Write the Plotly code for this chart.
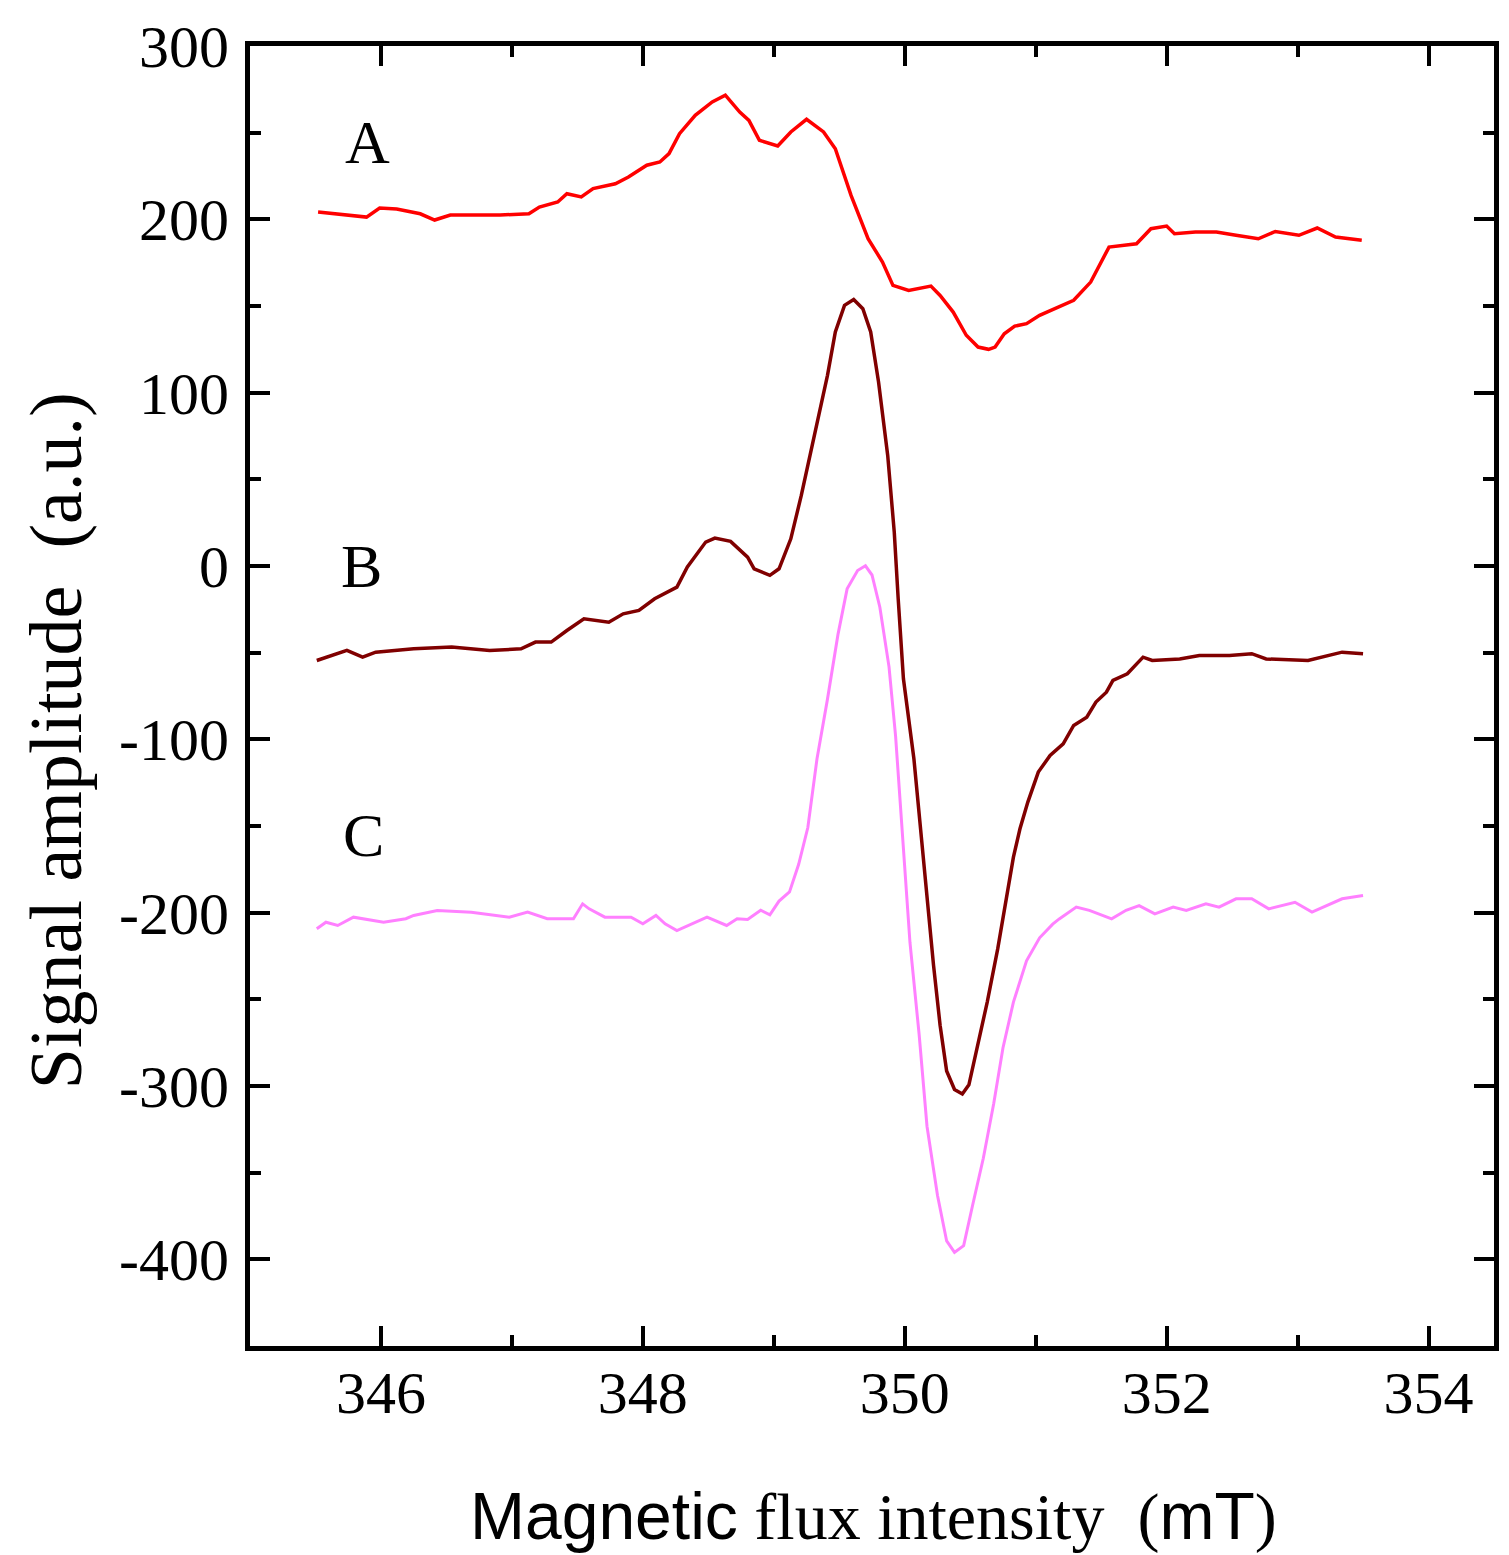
import plotly.graph_objects as go

# ---- data ----
x_a = [345.52, 345.89, 345.99, 346.12, 346.30, 346.41, 346.53, 346.91, 347.13, 347.21,
       347.35, 347.42, 347.53, 347.62, 347.79, 347.89, 348.03, 348.13, 348.20, 348.28,
       348.40, 348.53, 348.63, 348.74, 348.81, 348.89, 349.03, 349.13, 349.25, 349.38,
       349.47, 349.59, 349.72, 349.83, 349.91, 350.03, 350.20, 350.27, 350.37, 350.47,
       350.56, 350.64, 350.69, 350.76, 350.84, 350.93, 351.03, 351.15, 351.29, 351.42,
       351.56, 351.77, 351.88, 352.00, 352.06, 352.22, 352.38, 352.53, 352.70, 352.83,
       353.01, 353.15, 353.29, 353.49]
y_a = [204.2, 201.3, 206.5, 205.9, 203.2, 199.6, 202.5, 202.5, 203.2, 207.1,
       210.0, 214.8, 212.9, 217.7, 220.5, 224.4, 231.2, 233.1, 237.9, 249.4,
       260.0, 267.7, 271.6, 261.9, 257.1, 245.6, 242.3, 250.4, 257.7, 250.4,
       240.7, 213.8, 188.8, 175.4, 161.9, 159.0, 161.5, 156.1, 146.5, 133.1,
       126.3, 125.0, 126.3, 134.0, 138.4, 139.8, 144.6, 148.4, 153.3, 163.8,
       184.0, 185.9, 194.6, 196.1, 191.7, 192.7, 192.7, 190.8, 188.8, 193.0,
       190.8, 195.0, 189.8, 187.9]

x_b = [345.51, 345.74, 345.86, 345.96, 346.25, 346.54, 346.83, 347.07, 347.18, 347.30,
       347.42, 347.55, 347.74, 347.85, 347.97, 348.09, 348.26, 348.34, 348.48, 348.55,
       348.67, 348.80, 348.85, 348.97, 349.04, 349.13, 349.21, 349.31, 349.41, 349.47,
       349.54, 349.61, 349.68, 349.74, 349.80, 349.87, 349.92, 349.95, 349.99, 350.07,
       350.12, 350.17, 350.22, 350.27, 350.32, 350.38, 350.44, 350.49, 350.55, 350.63,
       350.71, 350.78, 350.83, 350.88, 350.94, 351.02, 351.11, 351.21, 351.29, 351.39,
       351.46, 351.54, 351.59, 351.70, 351.82, 351.89, 352.10, 352.25, 352.48, 352.65,
       352.76, 353.08, 353.34, 353.50]
y_b = [-54.5, -48.7, -52.6, -49.7, -47.8, -46.8, -48.7, -47.8, -43.9, -43.9,
       -37.2, -30.5, -32.4, -27.6, -25.6, -18.9, -12.2, -0.6, 13.8, 16.1,
       14.2, 5.1, -1.6, -5.4, -1.6, 15.7, 40.7, 75.4, 110.0, 135.0,
       150.4, 153.8, 148.4, 135.0, 106.1, 63.8, 19.6, -18.9, -65.1, -111.2,
       -151.0, -193.3, -230.4, -264.9, -291.3, -302.0, -304.6, -299.3, -278.1, -251.6,
       -220.9, -190.1, -168.0, -151.6, -136.2, -118.9, -109.3, -102.6, -92.0, -87.2,
       -78.5, -72.8, -66.0, -62.2, -52.6, -54.5, -53.6, -51.6, -51.6, -50.6,
       -53.6, -54.5, -49.7, -50.6]

x_c = [345.51, 345.58, 345.67, 345.79, 346.02, 346.19, 346.25, 346.43, 346.69, 346.98,
       347.12, 347.27, 347.47, 347.54, 347.59, 347.71, 347.91, 348.00, 348.10, 348.17,
       348.26, 348.41, 348.49, 348.64, 348.72, 348.80, 348.90, 348.97, 349.04, 349.12,
       349.19, 349.26, 349.33, 349.41, 349.49, 349.56, 349.64, 349.70, 349.75, 349.81,
       349.88, 349.93, 349.98, 350.04, 350.11, 350.17, 350.25, 350.32, 350.38, 350.45,
       350.52, 350.60, 350.68, 350.75, 350.83, 350.93, 351.03, 351.13, 351.18, 351.31,
       351.41, 351.58, 351.69, 351.79, 351.91, 352.05, 352.15, 352.30, 352.40, 352.53,
       352.65, 352.78, 352.98, 353.11, 353.34, 353.50]
y_c = [-209.3, -205.5, -207.4, -202.6, -205.5, -203.5, -201.6, -198.7, -199.7, -202.6,
       -199.7, -203.5, -203.5, -194.9, -197.8, -202.6, -202.6, -206.4, -201.6, -206.4,
       -210.3, -205.5, -202.6, -207.4, -203.5, -203.9, -198.6, -201.3, -193.3, -188.0,
       -172.1, -150.9, -111.2, -76.8, -39.6, -13.2, -2.6, 0.1, -5.2, -23.8,
       -58.2, -98.0, -151.0, -217.2, -270.3, -323.2, -363.0, -389.4, -396.0, -392.1,
       -368.2, -341.7, -310.0, -278.1, -251.6, -227.8, -214.5, -206.6, -203.6, -196.8,
       -198.7, -203.6, -198.6, -195.9, -200.7, -196.8, -198.7, -194.9, -196.8, -192.0,
       -192.0, -197.8, -194.0, -199.7, -192.0, -190.1]

curve_names = ["A", "B", "C"]
label_x = [345.9, 345.85, 345.87]
label_y = [244.6, 0.0, -155.3]

x_ticks = [346, 348, 350, 352, 354]
y_ticks = [-400, -300, -200, -100, 0, 100, 200, 300]

serif = "Liberation Serif, Times New Roman, serif"
narrow = "Liberation Sans Narrow, Arial Narrow, Liberation Sans, Arial, sans-serif"

# ---- figure ----
fig = go.Figure()
fig.add_trace(go.Scatter(x=x_a, y=y_a, mode="lines", line=dict(color="#FF0000", width=3.5), name="A"))
fig.add_trace(go.Scatter(x=x_b, y=y_b, mode="lines", line=dict(color="#800000", width=3.5), name="B"))
fig.add_trace(go.Scatter(x=x_c, y=y_c, mode="lines", line=dict(color="#FF80FF", width=3), name="C"))

for name, lx, ly in zip(curve_names, label_x, label_y):
    fig.add_annotation(x=lx, y=ly, text=name, showarrow=False, xanchor="center", yanchor="middle",
                       font=dict(family=serif, size=62, color="black"))

fig.add_annotation(xref="paper", yref="paper", x=-0.156, y=0.466, text="Signal amplitude  (a.u.)",
                   textangle=-90, showarrow=False, xanchor="center", yanchor="middle",
                   font=dict(family=serif, size=74, color="black"))
fig.add_annotation(xref="paper", yref="paper", x=0.501, y=-0.131,
                   text=f"<span style='font-family:{narrow}'>Magnetic</span> flux intensity  "
                        f"(<span style='font-family:{narrow}'>mT</span>)",
                   showarrow=False, xanchor="center", yanchor="middle",
                   font=dict(family=serif, size=66, color="black"))

axis_common = dict(showline=True, linewidth=5, linecolor="black", mirror="allticks",
                   ticks="inside", ticklen=20, tickwidth=4, tickcolor="black",
                   showgrid=False, zeroline=False,
                   tickfont=dict(family=serif, size=60, color="black"))

fig.update_xaxes(range=[345.0, 354.5], tickvals=x_ticks, ticktext=[str(v) for v in x_ticks],
                 minor=dict(ticks="inside", ticklen=11, tickwidth=4, tickcolor="black", dtick=1, tick0=345),
                 ticklabelstandoff=-10, **axis_common)
fig.update_yaxes(range=[-450, 300], tickvals=y_ticks, ticktext=[str(v) for v in y_ticks],
                 minor=dict(ticks="inside", ticklen=11, tickwidth=4, tickcolor="black", dtick=50, tick0=-450),
                 ticklabelstandoff=4, **axis_common)

fig.update_layout(width=1496, height=1547, paper_bgcolor="white", plot_bgcolor="white",
                  showlegend=False, margin=dict(l=242, r=5, t=38, b=209))

fig.write_html("out.html")
